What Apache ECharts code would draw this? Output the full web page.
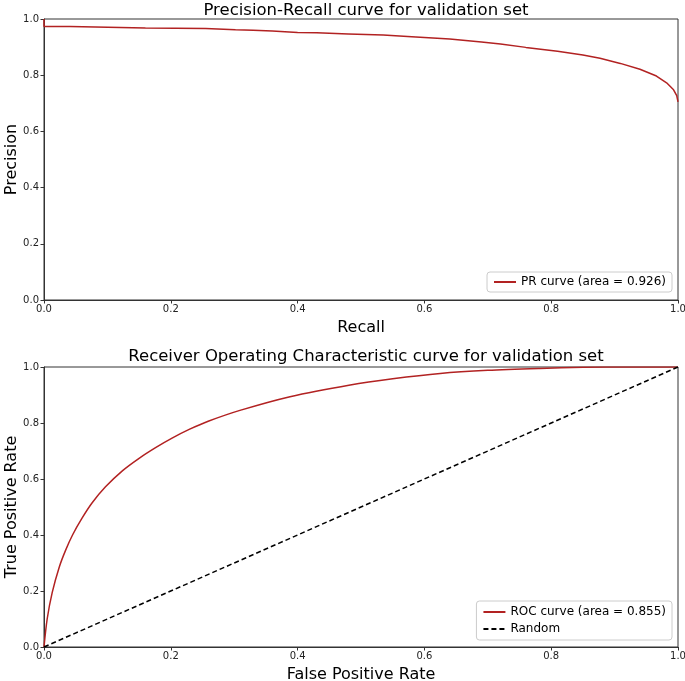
<!DOCTYPE html>
<html><head><meta charset="utf-8">
<script src="https://cdn.jsdelivr.net/npm/echarts@6/dist/echarts.min.js"></script>
<style>html,body{margin:0;padding:0;background:#fff}#c{width:685px;height:681px}</style>
</head><body><div id="c"></div>
<script>
// PR curve (recall, precision)
const prRecall = [0, 0, 0.041, 0.041, 0.160, 0.160, 0.255, 0.255, 0.302, 0.302, 0.33, 0.36, 0.40, 0.43, 0.48, 0.535, 0.58, 0.64, 0.69, 0.72, 0.76, 0.81, 0.85, 0.877, 0.909, 0.94, 0.966, 0.982, 0.993, 0.998, 1.0];
const prPrecision = [1.0, 0.973, 0.973, 0.968, 0.968, 0.966, 0.966, 0.962, 0.962, 0.960, 0.960, 0.957, 0.952, 0.951, 0.947, 0.943, 0.937, 0.929, 0.918, 0.911, 0.899, 0.885, 0.872, 0.860, 0.842, 0.821, 0.797, 0.773, 0.748, 0.727, 0.705];
// ROC curve (fpr, tpr)
const rocFpr = [0, 0.005, 0.013, 0.024, 0.034, 0.045, 0.060, 0.076, 0.097, 0.124, 0.150, 0.176, 0.202, 0.229, 0.260, 0.309, 0.388, 0.483, 0.55, 0.625, 0.70, 0.782, 0.85, 0.887, 1.0];
const rocTpr = [0, 0.10, 0.195, 0.285, 0.345, 0.40, 0.46, 0.515, 0.572, 0.630, 0.674, 0.712, 0.746, 0.777, 0.807, 0.845, 0.894, 0.936, 0.958, 0.977, 0.988, 0.995, 0.999, 1.0, 1.0];
const randomX = [0, 1];
const randomY = [0, 1];

const FONT = 'DejaVu Sans';
const zip = (a, b) => a.map((v, i) => [v, b[i]]);
function valAxis(gi, name, isY) {
  return {
    type: 'value', gridIndex: gi, min: 0, max: 1, interval: 0.2,
    name: name, nameLocation: 'middle', nameGap: isY ? 24 : 20, nameMoveOverlap: false,
    nameTextStyle: {fontFamily: FONT, fontSize: 16, color: '#000'},
    axisLine: {show: true, onZero: false, lineStyle: {color: '#333', width: 1}},
    axisTick: {show: true, length: 3.5, lineStyle: {color: '#333'}},
    axisLabel: {fontFamily: FONT, fontSize: 10, color: '#222', margin: isY ? 5 : 4,
      formatter: v => v.toFixed(1)},
    splitLine: {show: false}
  };
}
const legendBase = {
  right: 13, orient: 'vertical', itemWidth: 22, itemHeight: 10,
  borderColor: '#ccc', borderWidth: 1, borderRadius: 3, backgroundColor: '#fff',
  itemStyle: {opacity: 0},
  textStyle: {fontFamily: FONT, fontSize: 12, color: '#000'}
};
const chart = echarts.init(document.getElementById('c'));
chart.setOption({
  animation: false,
  backgroundColor: '#fff',
  title: [
    {text: 'Precision-Recall curve for validation set', left: 361, top: -3, textAlign: 'center',
     textStyle: {fontFamily: FONT, fontSize: 16.5, fontWeight: 'normal', color: '#000'}},
    {text: 'Receiver Operating Characteristic curve for validation set', left: 361, top: 343, textAlign: 'center',
     textStyle: {fontFamily: FONT, fontSize: 16.5, fontWeight: 'normal', color: '#000'}}
  ],
  grid: [
    {left: 44, right: 7, top: 19, height: 281, show: true, borderColor: '#333', borderWidth: 1,
     containLabel: false, outerBoundsMode: 'none'},
    {left: 44, right: 7, top: 367, height: 280, show: true, borderColor: '#333', borderWidth: 1,
     containLabel: false, outerBoundsMode: 'none'}
  ],
  xAxis: [valAxis(0, 'Recall', false), valAxis(1, 'False Positive Rate', false)],
  yAxis: [valAxis(0, 'Precision', true), valAxis(1, 'True Positive Rate', true)],
  legend: [
    Object.assign({}, legendBase, {data: ['PR curve (area = 0.926)'], top: 272, itemGap: 4, padding: [4, 6, 4, 6]}),
    Object.assign({}, legendBase, {data: ['ROC curve (area = 0.855)', 'Random'], top: 601, itemGap: 5, padding: [5, 6, 5, 6]})
  ],
  series: [
    {name: 'PR curve (area = 0.926)', type: 'line', xAxisIndex: 0, yAxisIndex: 0,
     data: zip(prRecall, prPrecision), symbol: 'none', color: '#b22222',
     lineStyle: {color: '#b22222', width: 1.5}},
    {name: 'ROC curve (area = 0.855)', type: 'line', xAxisIndex: 1, yAxisIndex: 1,
     data: zip(rocFpr, rocTpr), symbol: 'none', smooth: 0.3, color: '#b22222',
     lineStyle: {color: '#b22222', width: 1.5}},
    {name: 'Random', type: 'line', xAxisIndex: 1, yAxisIndex: 1,
     data: zip(randomX, randomY), symbol: 'none', color: '#000',
     lineStyle: {color: '#000', width: 1.5, type: [5, 3]}}
  ]
});
</script></body></html>
